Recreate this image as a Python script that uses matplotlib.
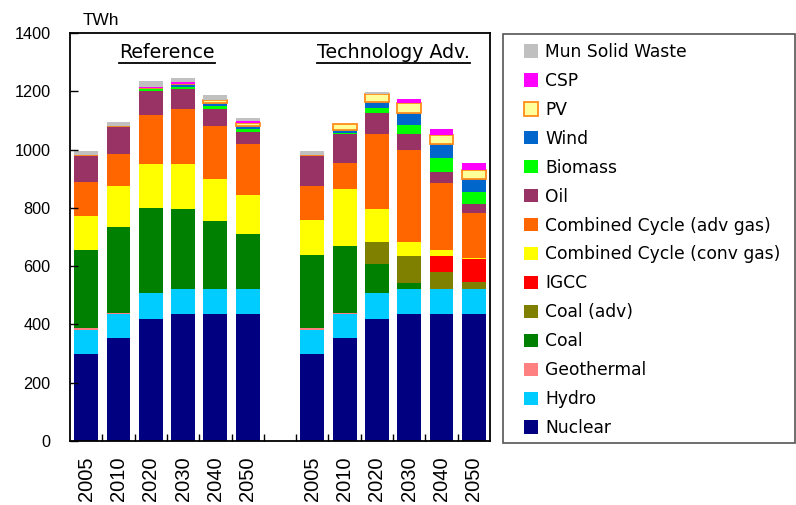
import matplotlib
matplotlib.use('Agg')
import matplotlib.pyplot as plt
from matplotlib.lines import Line2D
from matplotlib.patches import Rectangle
import numpy as np

# ---------------------------------------------------------------
# data (TWh), 6 Reference years followed by 6 Technology Adv. years
# ---------------------------------------------------------------
years = ['2005', '2010', '2020', '2030', '2040', '2050']
groups = ['Reference', 'Technology Adv.']

nuclear = [300, 353, 420, 435, 435, 435, 300, 353, 420, 435, 435, 435]
hydro = [82, 84, 87, 87, 87, 87, 82, 84, 87, 87, 87, 87]
geothermal = [5, 3, 2, 1, 1, 1, 5, 3, 1, 1, 1, 1]
coal = [270, 294, 292, 274, 231, 187, 250, 230, 101, 19, 0, 0]
coal_adv = [0, 0, 0, 0, 0, 0, 0, 0, 73, 92, 58, 24]
igcc = [0, 0, 0, 0, 0, 0, 0, 0, 0, 0, 53, 77]
cc_conv = [115, 140, 148, 153, 144, 135, 120, 194, 115, 48, 20, 5]
cc_adv = [116, 110, 170, 189, 183, 174, 118, 91, 256, 318, 230, 153]
oil = [92, 92, 81, 68, 58, 43, 105, 98, 71, 53, 39, 31]
biomass = [1, 2, 7, 9, 9, 10, 1, 3, 20, 33, 49, 41]
wind = [2, 4, 3, 8, 11, 9, 2, 11, 20, 41, 48, 46]
pv = [0, 0, 2, 2, 10, 10, 0, 20, 27, 34, 29, 29]
csp = [0, 0, 1, 5, 2, 6, 0, 0, 0, 11, 23, 26]
msw = [12, 14, 21, 15, 17, 12, 11, 0, 6, 0, 0, 0]

# stacking order, bottom to top
series = [
    ('Nuclear', nuclear, '#000080', None),
    ('Hydro', hydro, '#00CCFF', None),
    ('Geothermal', geothermal, '#FF8080', None),
    ('Coal', coal, '#008000', None),
    ('Coal (adv)', coal_adv, '#808000', None),
    ('IGCC', igcc, '#FF0000', None),
    ('Combined Cycle (conv gas)', cc_conv, '#FFFF00', None),
    ('Combined Cycle (adv gas)', cc_adv, '#FF6600', None),
    ('Oil', oil, '#993366', None),
    ('Biomass', biomass, '#00FF00', None),
    ('Wind', wind, '#0066CC', None),
    ('PV', pv, '#FFFF99', '#FF8C1A'),
    ('CSP', csp, '#FF00FF', None),
    ('Mun Solid Waste', msw, '#C0C0C0', None),
]

# positions: one empty slot between the two scenarios
xpos = np.array(list(range(6)) + list(range(7, 13)))
labels = years + years

fig = plt.figure(figsize=(7.96, 5.05), dpi=100)
ax = fig.add_axes([70 / 796, 64 / 505, 420 / 796, 408 / 505])

bottom = np.zeros(len(xpos))
handles = []
for name, vals, color, edge in series:
    vals = np.array(vals, dtype=float)
    if edge is None:
        b = ax.bar(xpos, vals, 0.74, bottom=bottom, color=color, linewidth=0, label=name)
    else:
        b = ax.bar(xpos, vals, 0.74, bottom=bottom, color=color, edgecolor=edge,
                   linewidth=1.3, label=name)
    handles.append(b)
    bottom += vals

ax.set_xlim(-0.5, 12.5)
ax.set_ylim(0, 1400)
ax.set_yticks(range(0, 1401, 200))
ax.set_xticks(xpos)
ax.set_xticklabels(labels, rotation=90, fontsize=14.5, family='Liberation Sans')
ax.set_xticks(np.arange(0.5, 12, 1), minor=True)
ax.tick_params(axis='x', which='major', length=0, pad=11)
ax.tick_params(axis='x', which='minor', direction='in', length=5, width=1)
ax.tick_params(axis='y', direction='in', length=6, width=1, pad=14, labelsize=11.7)
for lab in ax.get_yticklabels():
    lab.set_family('Liberation Sans')
for s in ax.spines.values():
    s.set_linewidth(1.3)

ax.text(0.03, 1.012, 'TWh', transform=ax.transAxes, fontsize=12.4,
        family='Liberation Sans', va='bottom', ha='left')

# scenario titles with underline
titles = []
for gx, g in zip([2.5, 9.5], groups):
    t = ax.text(gx, 1334, g, fontsize=13.7, ha='center', va='center')
    titles.append(t)

# legend in a framed box on the right
leg = fig.legend([h for h in handles[::-1]], [s[0] for s in series[::-1]],
                 loc='center left', bbox_to_anchor=(524 / 796, 1 - 240 / 505),
                 frameon=False, fontsize=12.3, borderpad=0, borderaxespad=0,
                 handlelength=0.82, handleheight=0.82, handletextpad=0.42,
                 labelspacing=0.64)
fig.patches.append(Rectangle((503 / 796, 1 - 443 / 505), 292 / 796, 409 / 505,
                             transform=fig.transFigure, fill=False,
                             edgecolor='#555555', linewidth=1.2))

fig.canvas.draw()
r = fig.canvas.get_renderer()
for t in titles:
    bb = t.get_window_extent(r)
    y = bb.y0 - 1.0
    fig.lines.append(Line2D([bb.x0 / 796, bb.x1 / 796], [y / 505, y / 505],
                            transform=fig.transFigure, color='black', linewidth=1.3))

fig.savefig('out.png', dpi=100)
